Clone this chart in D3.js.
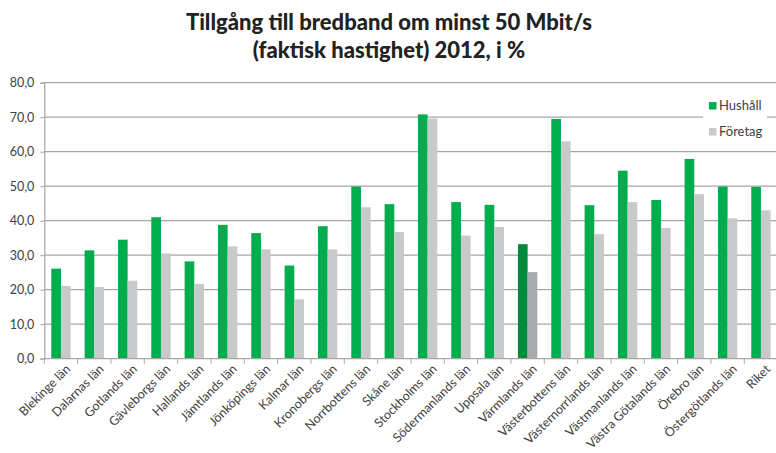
<!DOCTYPE html>
<html>
<head>
<meta charset="utf-8">
<script src="https://cdn.jsdelivr.net/npm/d3@7"></script>
<style>
  html, body { margin: 0; padding: 0; background: #fff; }
  svg { display: block; }
</style>
</head>
<body>
<svg id="chart" width="776" height="453"></svg>
<script>
// Broadband availability (>= 50 Mbit/s, actual speed) per county, 2012, in percent
const counties = [
  "Blekinge län", "Dalarnas län", "Gotlands län", "Gävleborgs län", "Hallands län",
  "Jämtlands län", "Jönköpings län", "Kalmar län", "Kronobergs län", "Norrbottens län",
  "Skåne län", "Stockholms län", "Södermanlands län", "Uppsala län", "Värmlands län",
  "Västerbottens län", "Västernorrlands län", "Västmanlands län", "Västra Götalands län",
  "Örebro län", "Östergötlands län", "Riket"
];
const hushall = [26.1, 31.4, 34.5, 41.0, 28.2, 38.8, 36.4, 27.0, 38.4, 49.9, 44.8, 70.8,
  45.4, 44.6, 33.2, 69.5, 44.5, 54.5, 46.0, 57.9, 49.9, 49.8];
const foretag = [21.1, 20.8, 22.6, 30.5, 21.7, 32.6, 31.7, 17.2, 31.7, 43.9, 36.7, 69.6,
  35.7, 38.2, 25.1, 63.0, 36.1, 45.4, 37.9, 47.7, 40.7, 43.0];
const seriesNames = ["Hushåll", "Företag"];
const yTicks = [0, 10, 20, 30, 40, 50, 60, 70, 80];
const highlighted = "Värmlands län";

const colors = {
  "Hushåll": "#00AC4E",
  "Företag": "#C8C9CB"
};
const highlightColors = {
  "Hushåll": "#008A3E",
  "Företag": "#A9AAAD"
};

const svg = d3.select("#chart");
const font = "Lato, 'Open Sans', sans-serif";

const margin = { left: 44.3, top: 82.7, right: -1.6, bottom: 94.3 };
const width = 776 - margin.left - margin.right;
const height = 453 - margin.top - margin.bottom;

const g = svg.append("g").attr("transform", `translate(${margin.left},${margin.top})`);

const x = d3.scaleBand().domain(counties).range([0, width]).paddingInner(0.42).paddingOuter(0.21);
const xBand = d3.scaleBand().domain(counties).range([0, width]);
const xSub = d3.scaleBand().domain(seriesNames).range([0, x.bandwidth()]);
const y = d3.scaleLinear().domain([0, 80]).range([height, 0]);

// Title
const title = svg.append("text")
  .attr("x", 389).attr("text-anchor", "middle")
  .attr("font-family", font).attr("font-weight", 900)
  .attr("font-size", 22).attr("fill", "#222");
title.append("tspan").attr("x", 389).attr("y", 30).text("Tillgång till bredband om minst 50 Mbit/s");
title.append("tspan").attr("x", 389).attr("y", 58).text("(faktisk hastighet) 2012, i %");

// Gridlines
g.append("g")
  .selectAll("line").data(yTicks.filter(d => d > 0)).join("line")
  .attr("x1", 0).attr("x2", width)
  .attr("y1", d => y(d)).attr("y2", d => y(d))
  .attr("stroke", "#A6A6A6").attr("stroke-width", 1.2);

// Y axis
const yAxis = g.append("g")
  .call(d3.axisLeft(y).tickValues(yTicks).tickSize(4).tickPadding(6)
    .tickFormat(d => d3.format(".1f")(d).replace(".", ",")));
yAxis.select(".domain").attr("stroke", "#A6A6A6").attr("stroke-width", 1.2);
yAxis.selectAll(".tick line").attr("stroke", "#A6A6A6");
yAxis.selectAll("text").attr("font-family", font).attr("font-size", 12.5).attr("fill", "#404040");

// Bars
const rows = counties.map((c, i) => ({ county: c, values: [hushall[i], foretag[i]] }));
const groups = g.append("g").selectAll("g").data(rows).join("g")
  .attr("transform", d => `translate(${x(d.county)},0)`);
groups.selectAll("rect")
  .data(d => seriesNames.map((s, k) => ({ series: s, value: d.values[k], county: d.county })))
  .join("rect")
  .attr("x", d => xSub(d.series))
  .attr("width", xSub.bandwidth())
  .attr("y", d => y(d.value))
  .attr("height", d => y(0) - y(d.value))
  .attr("fill", d => d.county === highlighted ? highlightColors[d.series] : colors[d.series]);

// X axis with category boundary ticks
const xAxisG = g.append("g").attr("transform", `translate(0,${height})`);
xAxisG.append("line").attr("x1", 0).attr("x2", width)
  .attr("stroke", "#A6A6A6").attr("stroke-width", 1.2);
xAxisG.selectAll("line.tick").data(counties).join("line").attr("class", "tick")
  .attr("x1", d => xBand(d)).attr("x2", d => xBand(d))
  .attr("y1", 0).attr("y2", 5)
  .attr("stroke", "#A6A6A6");
xAxisG.selectAll("text").data(counties).join("text")
  .attr("transform", d => `translate(${xBand(d) + xBand.bandwidth() / 2 + 4},${5}) rotate(-45)`)
  .attr("text-anchor", "end")
  .attr("dy", "0.7em")
  .attr("font-family", font).attr("font-size", 12.5).attr("fill", "#404040")
  .text(d => d);

// Legend
const legend = svg.append("g").attr("transform", "translate(703,97)");
legend.append("rect").attr("x", 0).attr("y", 0).attr("width", 64).attr("height", 44).attr("fill", "#fff");
seriesNames.forEach((s, i) => {
  const row = legend.append("g").attr("transform", `translate(6,${5 + i * 26})`);
  row.append("rect").attr("width", 7.5).attr("height", 7.5).attr("fill", colors[s]);
  row.append("text").attr("x", 10).attr("y", 7.5)
    .attr("font-family", font).attr("font-size", 13).attr("fill", "#404040").text(s);
});
</script>
</body>
</html>
